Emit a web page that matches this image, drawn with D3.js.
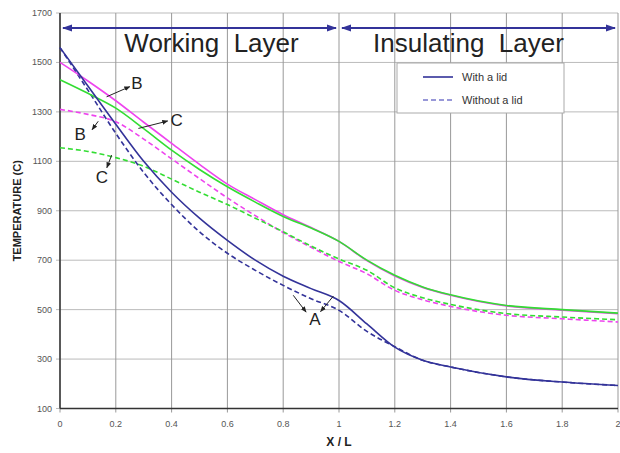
<!DOCTYPE html>
<html>
<head>
<meta charset="utf-8">
<script src="https://cdn.jsdelivr.net/npm/d3@7"></script>
<style>
  body { margin: 0; background: #fff; }
  svg { display: block; font-family: "Liberation Sans", Arial, sans-serif; }
</style>
</head>
<body>
<div id="chart"></div>
<script>
// data (x = X/L, values = temperature in C)
const xGrid = [0, 0.1, 0.2, 0.3, 0.4, 0.5, 0.6, 0.7, 0.8, 0.9, 1.0, 1.1, 1.2, 1.3, 1.4, 1.6, 1.8, 2.0];
const aWithLid    = [1560, 1405, 1250, 1100, 975, 870, 780, 700, 635, 585, 537, 442, 348, 295, 268, 228, 207, 193];
const aWithoutLid = [1560, 1388, 1213, 1055, 925, 815, 728, 659, 598, 544, 497, 412, 350, 295, 268, 228, 207, 193];
const bWithLid    = [1500, 1425, 1345, 1258, 1173, 1088, 1008, 945, 884, 832, 776, 698, 636, 590, 558, 515, 498, 484];
const bWithoutLid = [1310, 1290, 1260, 1190, 1110, 1030, 952, 880, 812, 752, 695, 645, 578, 540, 513, 477, 463, 450];
const cWithLid    = [1430, 1375, 1315, 1232, 1145, 1067, 997, 935, 877, 830, 776, 700, 639, 592, 560, 517, 500, 486];
const cWithoutLid = [1155, 1140, 1115, 1080, 1028, 975, 925, 870, 815, 757, 705, 659, 588, 548, 521, 484, 470, 459];

const yTicks = [100, 300, 500, 700, 900, 1100, 1300, 1500, 1700];
const layers = [
  { name: "Working  Layer", from: 0, to: 1 },
  { name: "Insulating  Layer", from: 1, to: 2 }
];
const legendItems = ["With a lid", "Without a lid"];

// letter callouts: arrow from curve [x0,t0] to letter [x1,t1], letter at [lx,lt]
const callouts = [
  { label: "B", x0: 0.167, t0: 1361, x1: 0.250, t1: 1402, lx: 0.276, lt: 1417 },
  { label: "C", x0: 0.281, t0: 1233, x1: 0.386, t1: 1263, lx: 0.418, lt: 1267 },
  { label: "B", x0: 0.137, t0: 1262, x1: 0.115, t1: 1228, lx: 0.072, lt: 1210 },
  { label: "C", x0: 0.185, t0: 1125, x1: 0.168, t1: 1074, lx: 0.150, lt: 1035 },
  { label: "A", x0: 0.836, t0: 558, x1: 0.882, t1: 490, lx: 0.914, lt: 462 },
  { label: "A", x0: 0.980, t0: 555, x1: 0.934, t1: 492, lx: null, lt: null }
];

const series = [
  { values: bWithoutLid, color: "#ee44ee", dash: "5,3" },
  { values: cWithoutLid, color: "#33dd33", dash: "5,3" },
  { values: aWithoutLid, color: "#333399", dash: "5,3" },
  { values: bWithLid, color: "#ee44ee", dash: null },
  { values: cWithLid, color: "#33dd33", dash: null },
  { values: aWithLid, color: "#333399", dash: null }
];

const width = 620, height = 453;
const margin = { top: 13, right: 2, bottom: 44.5, left: 60 };

const svg = d3.select("#chart").append("svg")
  .attr("width", width)
  .attr("height", height);

const x = d3.scaleLinear().domain([0, 2]).range([margin.left, width - margin.right]);
const y = d3.scaleLinear().domain([100, 1700]).range([height - margin.bottom, margin.top]);

const defs = svg.append("defs");
defs.append("marker")
  .attr("id", "tip")
  .attr("viewBox", "0 0 10 10")
  .attr("refX", 9).attr("refY", 5)
  .attr("markerWidth", 6).attr("markerHeight", 6)
  .attr("orient", "auto")
  .append("path").attr("d", "M0,1 L10,5 L0,9 Z").attr("fill", "#222");
defs.append("marker")
  .attr("id", "navytip")
  .attr("viewBox", "0 0 10 10")
  .attr("refX", 9).attr("refY", 5)
  .attr("markerWidth", 5).attr("markerHeight", 5)
  .attr("orient", "auto-start-reverse")
  .append("path").attr("d", "M0,1.5 L10,5 L0,8.5 Z").attr("fill", "#333399");

// grid
svg.append("g")
  .selectAll("line")
  .data(yTicks)
  .join("line")
  .attr("x1", x(0) - 4).attr("x2", x(2))
  .attr("y1", d => y(d)).attr("y2", d => y(d))
  .attr("stroke", "#bbb").attr("stroke-width", 1);

svg.append("g")
  .selectAll("line")
  .data(x.ticks(10))
  .join("line")
  .attr("x1", d => x(d)).attr("x2", d => x(d))
  .attr("y1", y(1700)).attr("y2", y(100) + 4)
  .attr("stroke", "#999").attr("stroke-width", 1);

// axes lines
svg.append("line")
  .attr("x1", x(0)).attr("x2", x(0)).attr("y1", y(1700)).attr("y2", y(100))
  .attr("stroke", "#333").attr("stroke-width", 1.5);
svg.append("line")
  .attr("x1", x(0)).attr("x2", x(2)).attr("y1", y(100)).attr("y2", y(100))
  .attr("stroke", "#333").attr("stroke-width", 1.5);

// tick labels
svg.append("g")
  .selectAll("text")
  .data(yTicks)
  .join("text")
  .attr("x", x(0) - 8)
  .attr("y", d => y(d) + 3)
  .attr("text-anchor", "end")
  .attr("font-size", 9)
  .attr("fill", "#555")
  .text(d => d);

svg.append("g")
  .selectAll("text")
  .data(x.ticks(10))
  .join("text")
  .attr("x", d => x(d))
  .attr("y", y(100) + 18)
  .attr("text-anchor", "middle")
  .attr("font-size", 9)
  .attr("fill", "#555")
  .text(d => +d.toFixed(1));

// axis titles
svg.append("text")
  .attr("transform", `translate(21,${(y(100) + y(1700)) / 2}) rotate(-90)`)
  .attr("text-anchor", "middle")
  .attr("font-size", 11)
  .attr("font-weight", "bold")
  .attr("fill", "#222")
  .text("TEMPERATURE (C)");

svg.append("text")
  .attr("x", x(1))
  .attr("y", 446)
  .attr("text-anchor", "middle")
  .attr("font-size", 12)
  .attr("font-weight", "bold")
  .attr("fill", "#222")
  .text("X / L");

// curves
const line = d3.line()
  .x((d, i) => x(xGrid[i]))
  .y(d => y(d))
  .curve(d3.curveMonotoneX);

svg.append("g")
  .selectAll("path")
  .data(series)
  .join("path")
  .attr("d", d => line(d.values))
  .attr("fill", "none")
  .attr("stroke", d => d.color)
  .attr("stroke-width", 1.6)
  .attr("stroke-dasharray", d => d.dash);

// layer arrows and names
svg.append("g")
  .selectAll("line")
  .data(layers)
  .join("line")
  .attr("x1", d => x(d.from) + 3).attr("x2", d => x(d.to) - 3)
  .attr("y1", 28).attr("y2", 28)
  .attr("stroke", "#333399").attr("stroke-width", 2)
  .attr("marker-start", "url(#navytip)")
  .attr("marker-end", "url(#navytip)");

svg.append("g")
  .selectAll("text")
  .data(layers)
  .join("text")
  .attr("x", d => x((d.from + d.to) / 2) + (d.from === 0 ? 12 : -10))
  .attr("y", 52)
  .attr("text-anchor", "middle")
  .attr("font-size", 26)
  .attr("fill", "#222")
  .style("white-space", "pre")
  .text(d => d.name);

// legend
const legend = svg.append("g").attr("transform", "translate(397,63)");
legend.append("rect")
  .attr("width", 167).attr("height", 50)
  .attr("fill", "#fff").attr("stroke", "#aaa");
legend.selectAll("line")
  .data(legendItems)
  .join("line")
  .attr("x1", 26).attr("x2", 56)
  .attr("y1", (d, i) => 14 + i * 23).attr("y2", (d, i) => 14 + i * 23)
  .attr("stroke", (d, i) => i ? "#7777cc" : "#333399")
  .attr("stroke-width", 1.6)
  .attr("stroke-dasharray", (d, i) => i ? "5,3" : null);
legend.selectAll("text")
  .data(legendItems)
  .join("text")
  .attr("x", 65)
  .attr("y", (d, i) => 18 + i * 23)
  .attr("font-size", 11)
  .attr("fill", "#333")
  .text(d => d);

// callouts
const notes = svg.append("g");
notes.selectAll("line")
  .data(callouts)
  .join("line")
  .attr("x1", d => x(d.x0)).attr("y1", d => y(d.t0))
  .attr("x2", d => x(d.x1)).attr("y2", d => y(d.t1))
  .attr("stroke", "#222").attr("stroke-width", 1)
  .attr("marker-end", "url(#tip)");
notes.selectAll("text")
  .data(callouts.filter(d => d.lx !== null))
  .join("text")
  .attr("x", d => x(d.lx))
  .attr("y", d => y(d.lt) + 6)
  .attr("text-anchor", "middle")
  .attr("font-size", 17)
  .attr("fill", "#222")
  .text(d => d.label);
</script>
</body>
</html>
